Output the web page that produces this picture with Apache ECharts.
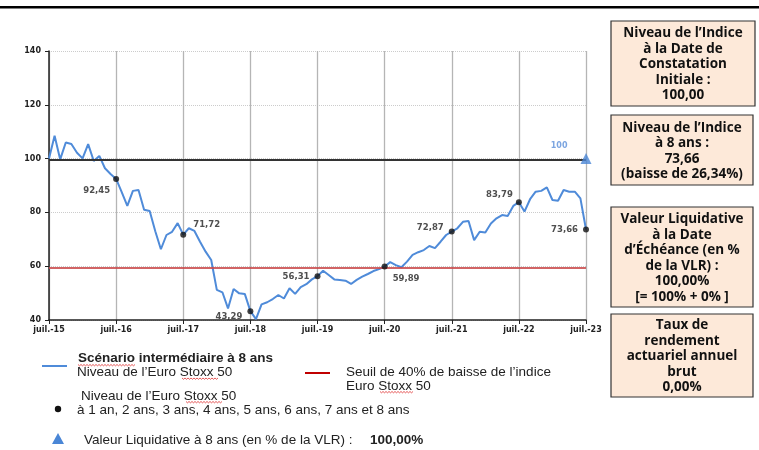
<!DOCTYPE html>
<html><head><meta charset="utf-8">
<script src="https://cdn.jsdelivr.net/npm/echarts@6/dist/echarts.min.js"></script>
<style>html,body{margin:0;padding:0;background:#fff}#c{width:759px;height:450px}</style>
</head><body><div id="c"></div>
<script>
// ---- data ----
const monthNames = ['juil.','août','sept.','oct.','nov.','déc.','janv.','févr.','mars','avr.','mai','juin'];
const startYear = 15;
const indexValues = [
 100,108.5,99.7,106,105.4,102.2,100.1,105.4,99.1,101,96.4,94.3,
 92.45,87.5,82.4,88,88.3,81,80.5,73,66.3,71.6,72.8,76,
 71.72,74.1,73.1,69.1,65.4,62.3,51.2,50.3,44.3,51.5,49.9,49.7,
 43.29,40.3,45.8,46.6,47.8,49.3,48,51.8,49.7,52.2,53.3,55.1,
 56.31,58.3,56.7,55.1,54.9,54.6,53.4,54.9,56.1,57.1,58.2,58.9,
 59.89,61.5,60.4,59.6,61.7,64.2,65.2,66,67.5,66.7,69.1,71.6,
 72.87,74.1,76.5,76.8,69.7,72.8,72.5,75.9,77.8,79,78.7,82.4,
 83.79,80.3,84.9,87.7,88,89.3,84.6,84.3,88.3,87.7,87.7,85.2,
 73.66
];
const obsIndex = [12,24,36,48,60,72,84,96];
const obsValues = [92.45,71.72,43.29,56.31,59.89,72.87,83.79,73.66];
const obsLabels = ['92,45','71,72','43,29','56,31','59,89','72,87','83,79','73,66'];
const initialLevel = 99.6;
const seuil = 59.3;
const vlrIndex = 96, vlrValue = 100, vlrLabel = '100';
const yTicks = {min:40, max:140, interval:20};

const categories = [];
for (let i = 0; i < indexValues.length; i++) {
  const m = i % 12, y = startYear + Math.floor(i / 12) + (m >= 6 ? 1 : 0);
  categories.push(monthNames[m] + '-' + y);
}

const labelPos = [
  {position:'left', offset:[2,12]},
  {position:'right', offset:[2,-10]},
  {position:'left', offset:[0,6]},
  {position:'left', offset:[0,1]},
  {position:'right', offset:[0,12]},
  {position:'left', offset:[0,-4]},
  {position:'left', offset:[2,-7]},
  {position:'left', offset:[0,0]}
];

const chart = echarts.init(document.getElementById('c'), null, {renderer:'canvas'});
const lblFont = {fontFamily:'DejaVu Sans', fontWeight:'bold', fontSize:8.5, color:'#222'};
const boxText = {fontFamily:'Open Sans', fontWeight:'bold', fontSize:13.5, fill:'#111', lineHeight:15.5, align:'center', verticalAlign:'middle'};
function box(x,y,w,h,text){
  return {type:'group', children:[
    {type:'rect', shape:{x:x,y:y,width:w,height:h}, style:{fill:'#fde9d9', stroke:'#333', lineWidth:1.2}},
    {type:'text', x:x+w/2, y:y+h/2+1, style:Object.assign({text:text}, boxText)}
  ]};
}
const legFont = {fontFamily:'Liberation Sans', fontSize:13.5, fill:'#222', verticalAlign:'middle'};
function squiggle(x1, x2, y){
  const pts = []; let up = true;
  for (let x = x1; x <= x2; x += 1.5) { pts.push([x, up ? y : y + 1.3]); up = !up; }
  return {type:'polyline', shape:{points:pts}, style:{stroke:'#e03030', lineWidth:0.8, fill:null}};
}

chart.setOption({
  animation:false,
  grid:{left:49, right:173, top:51, bottom:130, containLabel:false},
  xAxis:{
    type:'category', data:categories, boundaryGap:false,
    axisLine:{lineStyle:{color:'#222', width:1.5}},
    axisTick:{interval:11, length:4, lineStyle:{color:'#222'}},
    axisLabel:{interval:11, margin:6, fontFamily:'DejaVu Sans', fontWeight:'bold', fontSize:8, color:'#222'},
    splitLine:{show:true, interval:11, lineStyle:{color:'#b5b5b5', width:1.3}}
  },
  yAxis:{
    type:'value', min:yTicks.min, max:yTicks.max, interval:yTicks.interval,
    axisLine:{show:true, lineStyle:{color:'#222', width:1.5}},
    axisTick:{show:true, length:4, lineStyle:{color:'#222'}},
    axisLabel:{margin:8, fontFamily:'DejaVu Sans', fontWeight:'bold', fontSize:8, color:'#222'},
    splitLine:{lineStyle:{color:'#ccc', type:'dotted', width:1}}
  },
  series:[
    {type:'line', data:indexValues, symbol:'none', lineStyle:{color:'#4f8bd9', width:2}, z:3,
     markLine:{silent:true, symbol:'none', label:{show:false},
       data:[
         {yAxis:initialLevel, lineStyle:{color:'#333', width:2.2, type:'solid'}},
         {yAxis:seuil, lineStyle:{color:'#c9494a', width:2.2, type:'solid', opacity:0.85}}
       ]}},
    {type:'scatter', symbol:'circle', symbolSize:6, itemStyle:{color:'#111'}, z:5,
     data:obsIndex.map((ix,i)=>({value:[ix, obsValues[i]],
       label:Object.assign({show:true, formatter:obsLabels[i]}, labelPos[i], lblFont)}))},
    {type:'scatter', symbol:'triangle', symbolSize:11, itemStyle:{color:'#4a86d6'}, z:5,
     data:[{value:[vlrIndex, vlrValue], label:{show:true, formatter:vlrLabel, position:'left', offset:[-8,-13],
       fontFamily:'DejaVu Sans', fontWeight:'bold', fontSize:8, color:'#5b8fd8'}}]}
  ],
  graphic:[
    {type:'rect', shape:{x:0,y:6,width:759,height:2.5}, style:{fill:'#000'}},
    box(611,21,144,85,"Niveau de l’Indice\nà la Date de\nConstatation\nInitiale :\n100,00"),
    box(611,115,142,70,"Niveau de l’Indice\nà 8 ans :\n73,66\n(baisse de 26,34%)"),
    box(611,207,142,100,"Valeur Liquidative\nà la Date\nd’Échéance (en %\nde la VLR) :\n100,00%\n[= 100% + 0% ]"),
    box(611,314,142,83,"Taux de\nrendement\nactuariel annuel\nbrut\n0,00%"),
    // legend
    {type:'line', shape:{x1:42,y1:366,x2:67,y2:366}, style:{stroke:'#4f8bd9', lineWidth:2}},
    {type:'text', x:78, y:358, style:Object.assign({}, legFont, {text:'Scénario intermédiaire à 8 ans', fontWeight:'bold'})},
    {type:'text', x:77, y:372, style:Object.assign({}, legFont, {text:'Niveau de l’Euro Stoxx 50'})},
    {type:'line', shape:{x1:305,y1:373,x2:330,y2:373}, style:{stroke:'#c00000', lineWidth:2}},
    {type:'text', x:346, y:372, style:Object.assign({}, legFont, {text:'Seuil de 40% de baisse de l’indice'})},
    {type:'text', x:346, y:386, style:Object.assign({}, legFont, {text:'Euro Stoxx 50'})},
    {type:'text', x:81, y:396, style:Object.assign({}, legFont, {text:'Niveau de l’Euro Stoxx 50'})},
    {type:'circle', shape:{cx:58, cy:409, r:3.2}, style:{fill:'#111'}},
    {type:'text', x:77, y:410, style:Object.assign({}, legFont, {text:'à 1 an, 2 ans, 3 ans, 4 ans, 5 ans, 6 ans, 7 ans et 8 ans'})},
    {type:'polygon', shape:{points:[[58,433],[52,444],[64,444]]}, style:{fill:'#4a86d6'}},
    {type:'text', x:84, y:440, style:Object.assign({}, legFont, {text:'Valeur Liquidative à 8 ans (en % de la VLR) :'})},
    {type:'text', x:370, y:440, style:Object.assign({}, legFont, {text:'100,00%', fontWeight:'bold'})},
    squiggle(78, 136, 364.5),
    squiggle(182, 218, 378),
    squiggle(380, 414, 391.5),
    squiggle(186, 222, 401.5)
  ]
});
</script></body></html>
